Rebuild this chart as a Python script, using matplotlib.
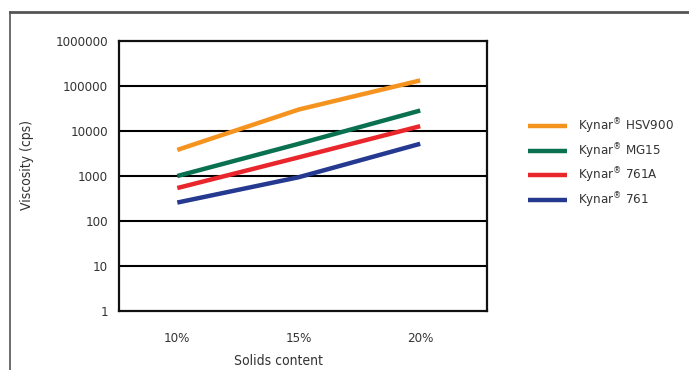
import matplotlib.pyplot as plt
from matplotlib.lines import Line2D

# Данные: вязкость (cps) по содержанию твердых веществ
solids = ['10%', '15%', '20%']
hsv900 = [3800, 30000, 133000]
mg15 = [1000, 5200, 28500]
k761a = [540, 2600, 12800]
k761 = [257, 940, 5200]

series = [
    ('Kynar$^{®}$ HSV900', hsv900, '#F5931F'),
    ('Kynar$^{®}$ MG15', mg15, '#0A7150'),
    ('Kynar$^{®}$ 761A', k761a, '#E8262B'),
    ('Kynar$^{®}$ 761', k761, '#24398F'),
]
y_ticks = [1, 10, 100, 1000, 10000, 100000, 1000000]

plt.rcParams['font.family'] = ['DejaVu Sans']
plt.rcParams['font.stretch'] = 'condensed'
plt.rcParams['mathtext.fontset'] = 'dejavusans'
plt.rcParams['text.color'] = '#333333'

fig = plt.figure(figsize=(6.89, 3.70), dpi=100)
ax = fig.add_axes([119 / 689, 59 / 370, 368 / 689, 270 / 370])

x = range(len(solids))
for label, vals, color in series:
    ax.plot(x, vals, color=color, lw=3.2, label=label, solid_capstyle='butt')

ax.set_yscale('log')
ax.set_ylim(1, 1000000)
ax.set_xlim(-0.48, 2.55)
ax.set_yticks(y_ticks)
ax.set_yticklabels([str(v) for v in y_ticks])
ax.minorticks_off()
ax.set_xticks(list(x))
ax.set_xticklabels(solids)
ax.tick_params(length=0, labelsize=9.5, colors='#333333', pad=8)
ax.tick_params(axis='x', pad=15)
for v in y_ticks[1:-1]:
    ax.axhline(v, color='black', lw=1.5, zorder=0)
for s in ax.spines.values():
    s.set_linewidth(1.6)
    s.set_color('#111111')

fig.text(278 / 689, 1 - 361 / 370, 'Solids content',
         ha='center', va='center', fontsize=10)
fig.text(27 / 689, 1 - 165 / 370, 'Viscosity (cps)', rotation=90,
         ha='center', va='center', fontsize=10)

fig.legend(loc='upper left', bbox_to_anchor=(516 / 689, 1 - 105 / 370),
           frameon=False, fontsize=9.5, handlelength=3.0, handletextpad=0.8,
           labelspacing=0.4)

# внешняя рамка
fig.add_artist(Line2D([10 / 689, 1], [1 - 12 / 370, 1 - 12 / 370],
                      transform=fig.transFigure, color='#555555', lw=2))
fig.add_artist(Line2D([10 / 689, 10 / 689], [0, 1 - 12 / 370],
                      transform=fig.transFigure, color='#555555', lw=1.2))

fig.savefig('out.png', dpi=100)
